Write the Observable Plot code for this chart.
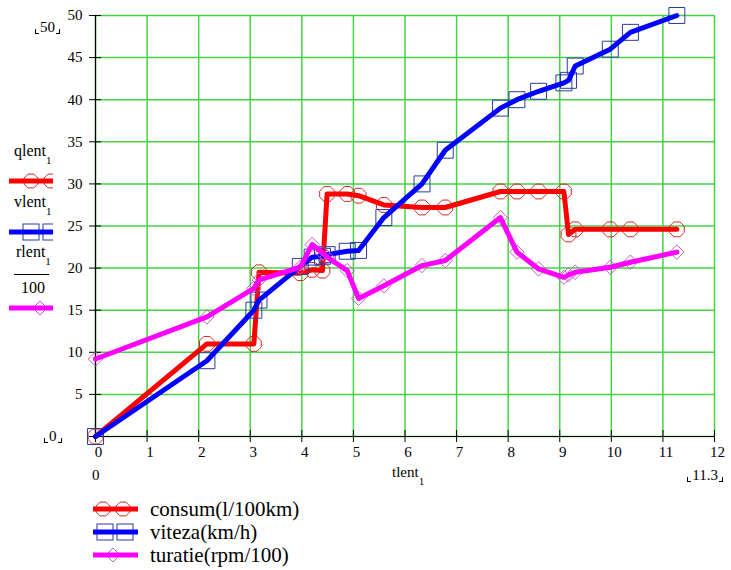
<!DOCTYPE html>
<html><head><meta charset="utf-8">
<script src="https://cdn.jsdelivr.net/npm/d3@7"></script>
<script src="https://cdn.jsdelivr.net/npm/@observablehq/plot@0.6"></script>
<style>
body{margin:0;background:#fff;font-family:"Liberation Serif","Tinos","Times New Roman","DejaVu Serif",serif;color:#000;}
#wrap{position:relative;width:731px;height:570px;overflow:hidden;}
#wrap svg.plot{position:absolute;left:0;top:0;}
.ov{position:absolute;white-space:nowrap;line-height:1;}
.c{display:inline-block;width:3px;height:4px;border-bottom:1px solid #000;vertical-align:-2px;}
.cl{border-left:1px solid #000;margin-right:1px;}
.cr{border-right:1px solid #000;margin-left:1px;}
.sub{font-size:11px;position:relative;top:8px;}
.leg{position:absolute;display:flex;align-items:center;height:22px;font-size:21px;white-space:nowrap;}
.leg svg{margin-right:12px;}
</style></head><body><div id="wrap"></div>
<script>
// ---- data ----
const tlent   = [0, 2.16, 3.07, 3.17, 3.97, 4.2, 4.4, 4.49, 4.88, 5.1, 5.59, 6.33, 6.78, 7.85, 8.17, 8.59, 9.08, 9.17, 9.3, 9.98, 10.37, 11.27];
const consum  = [0, 11, 11, 19.5, 19.4, 19.8, 19.7, 28.8, 28.8, 28.6, 27.5, 27.2, 27.2, 29.1, 29.1, 29.1, 29.1, 24.0, 24.6, 24.6, 24.6, 24.6];
const viteza  = [0, 9, 15, 16.2, 20.2, 21.3, 21.4, 21.6, 22, 22.1, 26, 30, 34, 39, 40, 41, 42, 42.3, 44, 46, 48, 50];
const turatie = [9.2, 14.2, 17.6, 18.6, 20.1, 22.8, 21.8, 21.3, 19.7, 16.4, 17.9, 20.3, 20.9, 26.0, 21.9, 19.9, 18.9, 19.2, 19.5, 20.1, 20.7, 21.9];
const xTicks = [0,1,2,3,4,5,6,7,8,9,10,11,12];
const yTicks = [0,5,10,15,20,25,30,35,40,45,50];
const seriesNames = ["consum(l/100km)", "viteza(km/h)", "turatie(rpm/100)"];

const rows = tlent.map((t, i) => ({t, q: consum[i], v: viteza[i], r: turatie[i]}));

const octagon = {draw(ctx, size) {
  const R = Math.sqrt(size / Math.PI);
  for (let k = 0; k < 8; k++) {
    const a = Math.PI / 8 + k * Math.PI / 4;
    const x = R * Math.cos(a), y = R * Math.sin(a);
    if (k) ctx.lineTo(x, y); else ctx.moveTo(x, y);
  }
  ctx.closePath();
}};

const GREEN = "#45d345";
const RED = "#ff0000", BLUE = "#0000ff", MAG = "#ff00ff";
const RED_M = "#d02828", BLUE_M = "#2a3aa0", MAG_M = "#c85ad0";
const FONT = '"Liberation Serif", Tinos, "Times New Roman", "DejaVu Serif", serif';

const chart = Plot.plot({
  width: 731, height: 490,
  marginLeft: 95, marginRight: 17, marginTop: 15, marginBottom: 54,
  style: {fontFamily: FONT, fontSize: "15px", color: "black", background: "white", overflow: "visible"},
  x: {domain: [0, 12], label: null},
  y: {domain: [0, 50], label: null},
  marks: [
    Plot.gridX(xTicks, {stroke: GREEN, strokeOpacity: 1, strokeWidth: 1.5}),
    Plot.gridY(yTicks, {stroke: GREEN, strokeOpacity: 1, strokeWidth: 1.5}),
    Plot.ruleX([0], {stroke: "black", strokeWidth: 1.2}),
    Plot.ruleY([0], {stroke: "black", strokeWidth: 1.2}),
    Plot.axisY(yTicks, {tickSize: 12, dx: 6, tickPadding: 7, label: null, tickFormat: d => d === 0 ? null : String(d)}),
    Plot.axisX(xTicks, {tickSize: 12, dy: -6, label: null, tickFormat: () => null}),
    Plot.axisX(xTicks, {tickSize: 0, tickPadding: 10, dx: 3, label: null, tickFormat: d => String(d)}),
    // consum
    Plot.dot(rows, {x: "t", y: "q", symbol: octagon, r: 8, stroke: RED_M, strokeWidth: 1, fill: "none"}),
    Plot.line(rows, {x: "t", y: "q", stroke: RED, strokeWidth: 5, strokeLinejoin: "round", strokeLinecap: "round"}),
    // viteza
    Plot.dot(rows, {x: "t", y: "v", symbol: "square", r: 9, stroke: BLUE_M, strokeWidth: 1, fill: "none"}),
    Plot.line(rows, {x: "t", y: "v", stroke: BLUE, strokeWidth: 5, strokeLinejoin: "round", strokeLinecap: "round"}),
    // turatie
    Plot.dot(rows, {x: "t", y: "r", symbol: "diamond2", r: 6.5, stroke: MAG_M, strokeWidth: 1, fill: "none"}),
    Plot.line(rows, {x: "t", y: "r", stroke: MAG, strokeWidth: 5, strokeLinejoin: "round", strokeLinecap: "round"})
  ]
});
chart.classList.add("plot");
const wrap = document.getElementById("wrap");
wrap.appendChild(chart);

// ---- swatches ----
function oct(cx, cy, R, col) {
  let p = [];
  for (let k = 0; k < 8; k++) { const a = Math.PI / 8 + k * Math.PI / 4; p.push((cx + R * Math.cos(a)).toFixed(1) + "," + (cy + R * Math.sin(a)).toFixed(1)); }
  return `<polygon points="${p.join(" ")}" fill="none" stroke="${col}" stroke-width="1"/>`;
}
function swatch(kind, w, h, pos) {
  const cy = h / 2;
  let s = `<svg width="${w}" height="${h}" viewBox="0 0 ${w} ${h}" style="display:block">`;
  if (kind === 0) { s += pos.map(x => oct(x, cy, 7.5, RED_M)).join(""); s += `<line x1="0" x2="${w}" y1="${cy}" y2="${cy}" stroke="${RED}" stroke-width="5"/>`; }
  if (kind === 1) { s += pos.map(x => `<rect x="${x - 8}" y="${cy - 8}" width="16" height="16" fill="none" stroke="${BLUE_M}"/>`).join(""); s += `<line x1="0" x2="${w}" y1="${cy}" y2="${cy}" stroke="${BLUE}" stroke-width="5"/>`; }
  if (kind === 2) { s += pos.map(x => `<polygon points="${x},${cy - 7} ${x + 7},${cy} ${x},${cy + 7} ${x - 7},${cy}" fill="none" stroke="${MAG_M}"/>`).join(""); s += `<line x1="0" x2="${w}" y1="${cy}" y2="${cy}" stroke="${MAG}" stroke-width="5"/>`; }
  return s + "</svg>";
}
function add(html, css) { const d = document.createElement("div"); d.className = "ov"; d.innerHTML = html; Object.assign(d.style, css); wrap.appendChild(d); return d; }

// Mathcad limit labels
add('<span class="c cl"></span>50<span class="c cr"></span>', {left: "35px", top: "20px", fontSize: "15px"});
add('<span class="c cl"></span>0<span class="c cr"></span>', {left: "44px", top: "429px", fontSize: "15px"});
add('0', {left: "92px", top: "468px", fontSize: "15px"});
add('tlent<span class="sub">1</span>', {left: "392px", top: "465px", fontSize: "15px"});
add('<span class="c cl"></span>11.3<span class="c cr"></span>', {right: "8px", top: "468px", fontSize: "15px"});

// left legend
add('qlent<span class="sub">1</span>', {left: "14px", top: "143px", fontSize: "16px"});
add(swatch(0, 44, 16, [22, 42]), {left: "9px", top: "173px"});
add('vlent<span class="sub">1</span>', {left: "14px", top: "194px", fontSize: "16px"});
add(swatch(1, 44, 18, [22, 42]), {left: "9px", top: "223px"});
add('rlent<span class="sub">1</span>', {left: "16px", top: "244px", fontSize: "16px"});
add('<div style="width:35px;border-top:1px solid #000"></div>', {left: "14px", top: "274px"});
add('100', {left: "21px", top: "280px", fontSize: "16px"});
add(swatch(2, 44, 16, [31]), {left: "9px", top: "300px"});

// bottom legend
const ly = [498, 521, 544];
seriesNames.forEach((name, i) => {
  const d = document.createElement("div");
  d.className = "leg";
  d.style.left = "93px"; d.style.top = ly[i] + "px";
  const pos = i === 0 ? [10, 30] : i === 1 ? [12, 32] : [20];
  d.innerHTML = swatch(i, 45, 20, pos) + `<span>${name}</span>`;
  wrap.appendChild(d);
});
</script>
</body></html>
